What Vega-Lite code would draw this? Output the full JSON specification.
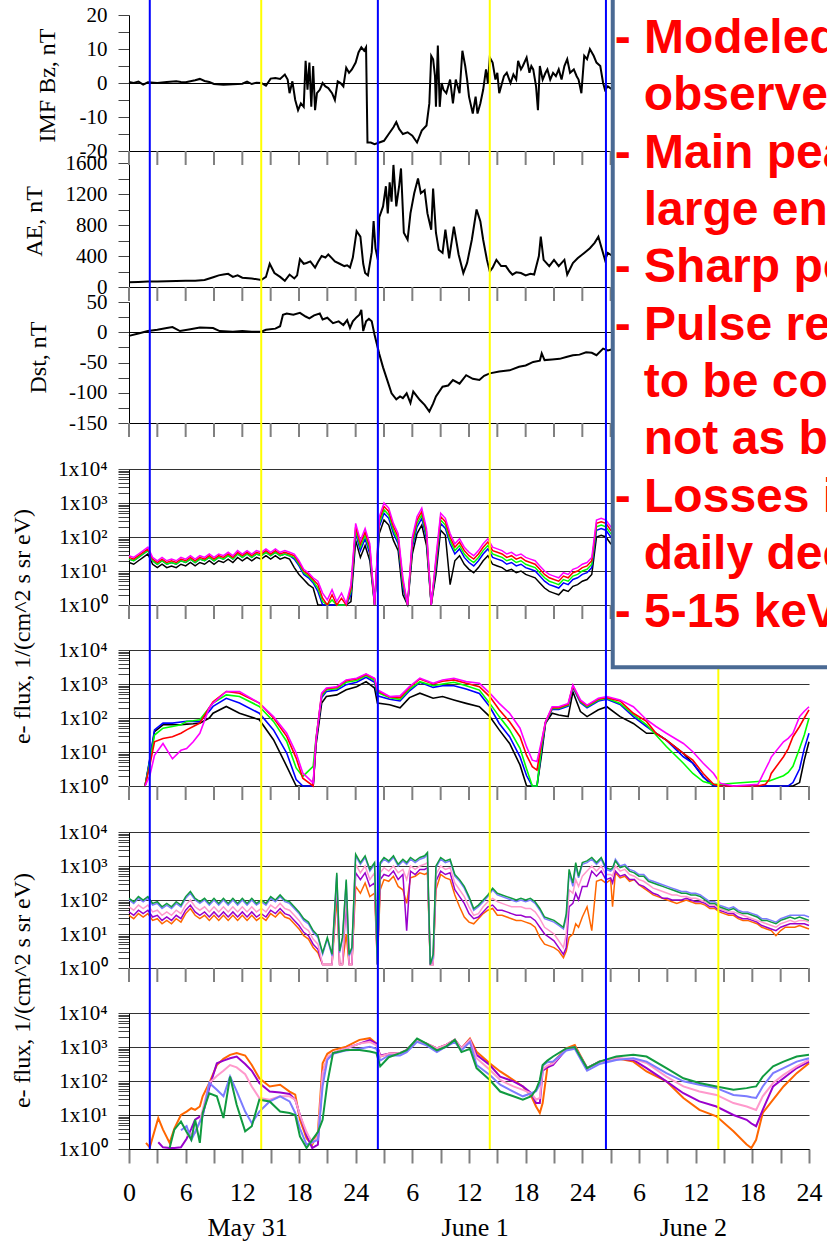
{
"$schema":"https://vega.github.io/schema/vega-lite/v6.json",
"usermeta":{"embedOptions":{"actions":false}},
"width":698,"height":1149,
"autosize":"none",
"padding":{"left":129,"top":0,"right":0,"bottom":93},
"background":"white",
"config":{"view":{"stroke":null},"font":"Liberation Serif",
 "axis":{"labelFont":"Liberation Serif","titleFont":"Liberation Serif","labelColor":"#000","titleColor":"#000","titleFontWeight":"normal","domainColor":"#000","domainWidth":1,"labelOverlap":false,"labelFlush":false,"labelBound":false},
 "axisY":{"tickSize":11,"labelPadding":11,"tickColor":"#444","tickWidth":1,"labelFontSize":21,"titleFontSize":24,"titleAngle":-90,"titleAlign":"center","titleBaseline":"middle"}},
"datasets":{
"bz":[{"t":0,"v":0.3},{"t":0.5,"v":0},{"t":1,"v":0.4},{"t":1.5,"v":-0.5},{"t":2,"v":0.2},{"t":3,"v":0},{"t":4,"v":0.3},{"t":5,"v":0.5},{"t":5.5,"v":0.3},{"t":6,"v":0.2},{"t":7,"v":0.8},{"t":7.5,"v":1.2},{"t":8,"v":0.6},{"t":8.5,"v":0.3},{"t":9,"v":-0.3},{"t":10,"v":-0.5},{"t":11,"v":-0.4},{"t":12,"v":-0.2},{"t":12.5,"v":0.4},{"t":13,"v":-0.3},{"t":13.5,"v":0.1},{"t":14,"v":0},{"t":14.5,"v":-0.8},{"t":15,"v":1.3},{"t":15.5,"v":1.5},{"t":16,"v":1.2},{"t":16.5,"v":2.5},{"t":16.8,"v":1},{"t":17,"v":-3},{"t":17.3,"v":0.5},{"t":17.6,"v":-5},{"t":17.9,"v":-8},{"t":18.2,"v":-6},{"t":18.5,"v":-7},{"t":18.7,"v":6.5},{"t":18.9,"v":-2},{"t":19.1,"v":6},{"t":19.3,"v":-7},{"t":19.5,"v":5},{"t":19.7,"v":-8},{"t":19.9,"v":-3},{"t":20.2,"v":-2},{"t":20.5,"v":0},{"t":20.8,"v":-1},{"t":21.1,"v":-1.5},{"t":21.5,"v":-3},{"t":21.8,"v":-5},{"t":22.1,"v":0.5},{"t":22.4,"v":0},{"t":22.7,"v":-1},{"t":23,"v":4.5},{"t":23.3,"v":3},{"t":23.6,"v":4},{"t":24,"v":6},{"t":24.3,"v":9},{"t":24.6,"v":10.5},{"t":24.9,"v":9.5},{"t":25.1,"v":10.5},{"t":25.25,"v":-17.5},{"t":25.6,"v":-17.5},{"t":26,"v":-18},{"t":26.5,"v":-17.5},{"t":27,"v":-17},{"t":27.5,"v":-15},{"t":28,"v":-13},{"t":28.3,"v":-11.5},{"t":28.6,"v":-13.5},{"t":29,"v":-15},{"t":29.5,"v":-14.5},{"t":30,"v":-15.5},{"t":30.5,"v":-17.5},{"t":31,"v":-14},{"t":31.5,"v":-12.5},{"t":31.8,"v":-6},{"t":32,"v":8},{"t":32.2,"v":7},{"t":32.4,"v":2},{"t":32.5,"v":-7},{"t":32.7,"v":11},{"t":32.9,"v":-7},{"t":33.1,"v":0},{"t":33.3,"v":-2},{"t":33.6,"v":-3},{"t":34,"v":1},{"t":34.3,"v":-6},{"t":34.6,"v":1},{"t":35,"v":-3},{"t":35.3,"v":9.5},{"t":35.6,"v":5},{"t":35.8,"v":1},{"t":36,"v":-4},{"t":36.4,"v":-9},{"t":36.7,"v":-4},{"t":36.9,"v":-9},{"t":37.2,"v":-6},{"t":37.5,"v":-2},{"t":37.8,"v":4},{"t":38,"v":0},{"t":38.2,"v":7.5},{"t":38.5,"v":6},{"t":38.8,"v":1},{"t":39,"v":3},{"t":39.2,"v":-3},{"t":39.5,"v":0},{"t":39.7,"v":2},{"t":40,"v":3},{"t":40.4,"v":0},{"t":40.7,"v":2.5},{"t":41,"v":1},{"t":41.2,"v":6.5},{"t":41.5,"v":4},{"t":41.7,"v":5},{"t":42.1,"v":7.5},{"t":42.4,"v":3},{"t":42.6,"v":5},{"t":42.8,"v":4},{"t":43.1,"v":-1},{"t":43.3,"v":-8},{"t":43.5,"v":5},{"t":43.8,"v":1},{"t":44.1,"v":3},{"t":44.3,"v":4},{"t":44.6,"v":1},{"t":44.9,"v":3},{"t":45.2,"v":2},{"t":45.5,"v":4},{"t":45.8,"v":1},{"t":46.1,"v":5},{"t":46.4,"v":7},{"t":46.7,"v":3},{"t":47.1,"v":4},{"t":47.4,"v":2},{"t":47.6,"v":1},{"t":47.9,"v":-3},{"t":48.2,"v":8},{"t":48.5,"v":7},{"t":48.8,"v":10},{"t":49.2,"v":8},{"t":49.5,"v":6},{"t":49.9,"v":5},{"t":50.2,"v":0},{"t":50.4,"v":-2},{"t":50.7,"v":-1},{"t":51.2,"v":-2}],
"ae":[{"t":0,"v":60},{"t":1,"v":65},{"t":2,"v":70},{"t":3,"v":72},{"t":4,"v":75},{"t":5,"v":78},{"t":6,"v":80},{"t":7,"v":82},{"t":8,"v":90},{"t":8.5,"v":110},{"t":9,"v":130},{"t":9.5,"v":150},{"t":10,"v":160},{"t":10.5,"v":170},{"t":11,"v":130},{"t":11.5,"v":150},{"t":12,"v":120},{"t":13,"v":110},{"t":14,"v":90},{"t":14.5,"v":130},{"t":14.9,"v":300},{"t":15.4,"v":180},{"t":16,"v":130},{"t":16.5,"v":80},{"t":17,"v":160},{"t":17.5,"v":110},{"t":17.8,"v":150},{"t":18.1,"v":360},{"t":18.5,"v":300},{"t":18.8,"v":310},{"t":19.2,"v":330},{"t":19.7,"v":250},{"t":20,"v":320},{"t":20.4,"v":400},{"t":20.8,"v":380},{"t":21.1,"v":420},{"t":21.5,"v":370},{"t":21.8,"v":330},{"t":22.3,"v":300},{"t":22.8,"v":270},{"t":23.1,"v":280},{"t":23.4,"v":250},{"t":23.7,"v":380},{"t":24.1,"v":720},{"t":24.5,"v":650},{"t":24.8,"v":300},{"t":25,"v":180},{"t":25.3,"v":150},{"t":25.7,"v":450},{"t":25.9,"v":850},{"t":26.1,"v":500},{"t":26.35,"v":350},{"t":26.5,"v":900},{"t":26.9,"v":1040},{"t":27.2,"v":1300},{"t":27.4,"v":950},{"t":27.6,"v":1350},{"t":27.8,"v":1100},{"t":28,"v":1575},{"t":28.3,"v":1040},{"t":28.6,"v":1300},{"t":28.8,"v":1530},{"t":29.1,"v":700},{"t":29.5,"v":610},{"t":29.8,"v":950},{"t":30.2,"v":1210},{"t":30.6,"v":1400},{"t":30.9,"v":1210},{"t":31.3,"v":1250},{"t":31.6,"v":950},{"t":32,"v":740},{"t":32.2,"v":1270},{"t":32.5,"v":700},{"t":32.8,"v":480},{"t":33.2,"v":440},{"t":33.5,"v":740},{"t":33.9,"v":370},{"t":34.4,"v":780},{"t":34.9,"v":420},{"t":35.4,"v":180},{"t":35.8,"v":310},{"t":36.3,"v":610},{"t":36.8,"v":1000},{"t":37.2,"v":850},{"t":37.5,"v":610},{"t":37.9,"v":350},{"t":38.2,"v":200},{"t":38.5,"v":250},{"t":38.9,"v":350},{"t":39.4,"v":270},{"t":39.9,"v":270},{"t":40.3,"v":200},{"t":40.6,"v":160},{"t":41,"v":190},{"t":41.5,"v":180},{"t":42,"v":150},{"t":42.5,"v":170},{"t":42.9,"v":160},{"t":43.4,"v":400},{"t":43.6,"v":650},{"t":43.9,"v":350},{"t":44.5,"v":270},{"t":45,"v":350},{"t":45.5,"v":270},{"t":46.1,"v":350},{"t":46.4,"v":160},{"t":47,"v":310},{"t":47.5,"v":370},{"t":48.2,"v":440},{"t":48.8,"v":500},{"t":49.3,"v":570},{"t":49.7,"v":650},{"t":50,"v":520},{"t":50.4,"v":350},{"t":50.7,"v":440},{"t":51.2,"v":400}],
"dst":[{"t":0,"v":-6},{"t":1,"v":-2},{"t":2,"v":2},{"t":3,"v":4},{"t":4,"v":7},{"t":4.6,"v":8.5},{"t":5.4,"v":2},{"t":6.5,"v":5},{"t":7.5,"v":8},{"t":8.9,"v":7},{"t":9.6,"v":2},{"t":11,"v":1},{"t":12,"v":2},{"t":13,"v":1},{"t":14,"v":1},{"t":14.5,"v":4},{"t":15.5,"v":6},{"t":16,"v":10},{"t":16.3,"v":29},{"t":16.7,"v":31},{"t":17.4,"v":29},{"t":18.1,"v":32},{"t":18.7,"v":26},{"t":19.1,"v":23},{"t":19.6,"v":28},{"t":20.2,"v":31},{"t":20.5,"v":21},{"t":21,"v":24},{"t":21.6,"v":15},{"t":22.2,"v":18},{"t":22.7,"v":12},{"t":23.1,"v":20},{"t":23.4,"v":7},{"t":23.7,"v":18},{"t":24.1,"v":25},{"t":24.4,"v":29},{"t":24.6,"v":37},{"t":24.8,"v":2},{"t":25.1,"v":18},{"t":25.4,"v":22},{"t":25.7,"v":18},{"t":26,"v":-4},{"t":26.5,"v":-36},{"t":26.9,"v":-58},{"t":27.3,"v":-77},{"t":27.8,"v":-101},{"t":28.3,"v":-111},{"t":28.7,"v":-106},{"t":29,"v":-109},{"t":29.4,"v":-101},{"t":29.8,"v":-117},{"t":30.1,"v":-98},{"t":30.8,"v":-112},{"t":31.3,"v":-120},{"t":31.8,"v":-131},{"t":32.2,"v":-118},{"t":32.5,"v":-106},{"t":33.2,"v":-90},{"t":33.8,"v":-88},{"t":34.3,"v":-79},{"t":35,"v":-85},{"t":35.7,"v":-71},{"t":36.4,"v":-77},{"t":37.1,"v":-79},{"t":37.6,"v":-72},{"t":38.2,"v":-68},{"t":39.2,"v":-65},{"t":40.3,"v":-63},{"t":41.3,"v":-57},{"t":42,"v":-55},{"t":42.8,"v":-49},{"t":43.5,"v":-47},{"t":43.7,"v":-35},{"t":44,"v":-46},{"t":44.8,"v":-45},{"t":45.6,"v":-44},{"t":46.3,"v":-41},{"t":47,"v":-38},{"t":47.7,"v":-37},{"t":48.4,"v":-33},{"t":49,"v":-34},{"t":49.5,"v":-38},{"t":50.2,"v":-27},{"t":50.7,"v":-30},{"t":51.2,"v":-28}],
"f1":[{"t":0,"k":17.8,"b":22.4,"g":22.4,"r":25.1,"m":28.2},{"t":0.5,"k":15.8,"b":20,"g":20,"r":22.4,"m":25.1},{"t":1,"k":20,"b":25.1,"g":25.1,"r":28.2,"m":31.6},{"t":1.5,"k":25.1,"b":31.6,"g":31.6,"r":35.5,"m":39.8},{"t":2,"k":31.6,"b":39.8,"g":39.8,"r":44.7,"m":50.1},{"t":2.5,"k":15.8,"b":20,"g":20,"r":22.4,"m":25.1},{"t":3,"k":12.6,"b":15.8,"g":15.8,"r":17.8,"m":20},{"t":3.5,"k":15.8,"b":20,"g":20,"r":22.4,"m":25.1},{"t":4,"k":12.6,"b":15.8,"g":15.8,"r":17.8,"m":20},{"t":4.5,"k":14.1,"b":17.8,"g":17.8,"r":20,"m":22.4},{"t":5,"k":12.6,"b":15.8,"g":15.8,"r":17.8,"m":20},{"t":5.5,"k":15.8,"b":20,"g":20,"r":22.4,"m":25.1},{"t":6,"k":14.1,"b":17.8,"g":17.8,"r":20,"m":22.4},{"t":6.5,"k":17.8,"b":22.4,"g":22.4,"r":25.1,"m":28.2},{"t":7,"k":14.1,"b":17.8,"g":17.8,"r":20,"m":22.4},{"t":7.5,"k":17.8,"b":22.4,"g":22.4,"r":25.1,"m":28.2},{"t":8,"k":15.8,"b":20,"g":20,"r":22.4,"m":25.1},{"t":8.5,"k":20,"b":25.1,"g":25.1,"r":28.2,"m":31.6},{"t":9,"k":15.8,"b":20,"g":20,"r":22.4,"m":25.1},{"t":9.5,"k":20,"b":25.1,"g":25.1,"r":28.2,"m":31.6},{"t":10,"k":17.8,"b":22.4,"g":22.4,"r":25.1,"m":28.2},{"t":10.5,"k":22.4,"b":28.2,"g":28.2,"r":31.6,"m":35.5},{"t":11,"k":17.8,"b":22.4,"g":22.4,"r":25.1,"m":28.2},{"t":11.5,"k":25.1,"b":31.6,"g":31.6,"r":35.5,"m":39.8},{"t":12,"k":20,"b":25.1,"g":25.1,"r":28.2,"m":31.6},{"t":12.5,"k":25.1,"b":31.6,"g":31.6,"r":35.5,"m":39.8},{"t":13,"k":20,"b":25.1,"g":25.1,"r":28.2,"m":31.6},{"t":13.5,"k":25.1,"b":31.6,"g":31.6,"r":35.5,"m":39.8},{"t":14,"k":22.4,"b":28.2,"g":28.2,"r":31.6,"m":35.5},{"t":14.5,"k":28.2,"b":35.5,"g":35.5,"r":39.8,"m":44.7},{"t":15,"k":22.4,"b":28.2,"g":28.2,"r":31.6,"m":35.5},{"t":15.5,"k":28.2,"b":35.5,"g":35.5,"r":39.8,"m":44.7},{"t":16,"k":22.4,"b":28.2,"g":28.2,"r":31.6,"m":35.5},{"t":16.5,"k":25.1,"b":31.6,"g":31.6,"r":35.5,"m":39.8},{"t":17,"k":22.4,"b":28.2,"g":28.2,"r":31.6,"m":35.5},{"t":17.5,"k":12.6,"b":22.4,"g":25.1,"r":28.2,"m":31.6},{"t":18,"k":7.94,"b":14.1,"g":15.8,"r":17.8,"m":20},{"t":18.5,"k":5.62,"b":7.94,"g":8.91,"r":10,"m":11.2},{"t":19,"k":3.98,"b":6.31,"g":7.08,"r":7.94,"m":8.91},{"t":19.5,"k":3.16,"b":4.47,"g":5.01,"r":5.62,"m":6.31},{"t":20,"k":1,"b":2.51,"g":3.16,"r":3.98,"m":5.01},{"t":20.5,"k":1,"b":1,"g":1.26,"r":1.58,"m":2.24},{"t":21,"k":1,"b":1,"g":1,"r":1,"m":1.41},{"t":21.5,"k":1,"b":1,"g":1.41,"r":2,"m":2.82},{"t":22,"k":1,"b":1,"g":1,"r":1,"m":1.26},{"t":22.5,"k":1,"b":1,"g":1,"r":1.58,"m":2.24},{"t":23,"k":1,"b":1,"g":1,"r":1,"m":1.12},{"t":23.5,"k":1.26,"b":2,"g":2.51,"r":3.16,"m":3.98},{"t":24,"k":79.4,"b":126,"g":158,"r":200,"m":251},{"t":24.5,"k":25.1,"b":39.8,"g":50.1,"r":63.1,"m":79.4},{"t":25,"k":56.2,"b":89.1,"g":112,"r":141,"m":178},{"t":25.5,"k":20,"b":31.6,"g":39.8,"r":50.1,"m":63.1},{"t":26,"k":1,"b":1,"g":1,"r":1,"m":1},{"t":26.5,"k":126,"b":200,"g":251,"r":316,"m":398},{"t":27,"k":316,"b":501,"g":631,"r":794,"m":1000},{"t":27.5,"k":224,"b":355,"g":447,"r":562,"m":708},{"t":28,"k":79.4,"b":126,"g":158,"r":200,"m":251},{"t":28.5,"k":39.8,"b":63.1,"g":79.4,"r":100,"m":126},{"t":29,"k":2,"b":3.16,"g":3.98,"r":5.01,"m":6.31},{"t":29.5,"k":1,"b":1,"g":1,"r":1,"m":1},{"t":30,"k":31.6,"b":50.1,"g":63.1,"r":79.4,"m":100},{"t":30.5,"k":126,"b":200,"g":251,"r":316,"m":398},{"t":31,"k":224,"b":355,"g":447,"r":562,"m":708},{"t":31.5,"k":56.2,"b":89.1,"g":112,"r":141,"m":178},{"t":32,"k":1,"b":1,"g":1,"r":1,"m":1},{"t":32.5,"k":7.94,"b":12.6,"g":15.8,"r":20,"m":25.1},{"t":33,"k":158,"b":251,"g":316,"r":398,"m":501},{"t":33.5,"k":112,"b":178,"g":224,"r":282,"m":355},{"t":34,"k":3.98,"b":63.1,"g":79.4,"r":100,"m":126},{"t":34.5,"k":20,"b":31.6,"g":39.8,"r":50.1,"m":63.1},{"t":35,"k":28.2,"b":44.7,"g":56.2,"r":70.8,"m":89.1},{"t":35.5,"k":15.8,"b":25.1,"g":31.6,"r":39.8,"m":50.1},{"t":36,"k":11.2,"b":17.8,"g":22.4,"r":28.2,"m":35.5},{"t":36.5,"k":8.91,"b":14.1,"g":17.8,"r":22.4,"m":28.2},{"t":37,"k":12.6,"b":20,"g":25.1,"r":31.6,"m":39.8},{"t":37.5,"k":20,"b":31.6,"g":39.8,"r":50.1,"m":63.1},{"t":38,"k":28.2,"b":44.7,"g":56.2,"r":70.8,"m":89.1},{"t":38.5,"k":15.8,"b":25.1,"g":31.6,"r":39.8,"m":50.1},{"t":39,"k":14.1,"b":22.4,"g":28.2,"r":35.5,"m":44.7},{"t":39.5,"k":12.6,"b":20,"g":25.1,"r":31.6,"m":39.8},{"t":40,"k":10,"b":15.8,"g":20,"r":25.1,"m":31.6},{"t":40.5,"k":11.2,"b":17.8,"g":22.4,"r":28.2,"m":35.5},{"t":41,"k":8.91,"b":14.1,"g":17.8,"r":22.4,"m":28.2},{"t":41.5,"k":10,"b":15.8,"g":20,"r":25.1,"m":31.6},{"t":42,"k":7.94,"b":12.6,"g":15.8,"r":20,"m":25.1},{"t":42.5,"k":7.08,"b":11.2,"g":14.1,"r":17.8,"m":22.4},{"t":43,"k":6.31,"b":10,"g":12.6,"r":15.8,"m":20},{"t":43.5,"k":4.47,"b":7.08,"g":8.91,"r":11.2,"m":14.1},{"t":44,"k":3.16,"b":5.01,"g":6.31,"r":7.94,"m":10},{"t":44.5,"k":2.51,"b":3.98,"g":5.01,"r":6.31,"m":7.94},{"t":45,"k":2.24,"b":3.55,"g":4.47,"r":5.62,"m":7.08},{"t":45.5,"k":2,"b":3.16,"g":3.98,"r":5.01,"m":6.31},{"t":46,"k":2.82,"b":4.47,"g":5.62,"r":7.08,"m":8.91},{"t":46.5,"k":2.51,"b":3.98,"g":5.01,"r":6.31,"m":7.94},{"t":47,"k":3.55,"b":5.62,"g":7.08,"r":8.91,"m":11.2},{"t":47.5,"k":3.98,"b":6.31,"g":7.94,"r":10,"m":12.6},{"t":48,"k":5.01,"b":7.94,"g":10,"r":12.6,"m":15.8},{"t":48.5,"k":5.62,"b":8.91,"g":11.2,"r":14.1,"m":17.8},{"t":49,"k":7.94,"b":12.6,"g":15.8,"r":20,"m":25.1},{"t":49.5,"k":100,"b":158,"g":200,"r":251,"m":316},{"t":50,"k":112,"b":178,"g":224,"r":282,"m":355},{"t":50.5,"k":100,"b":158,"g":200,"r":251,"m":316},{"t":51,"k":63.1,"b":100,"g":126,"r":158,"m":200},{"t":51.5,"k":50.1,"b":79.4,"g":100,"r":126,"m":158}],
"f2":[{"t":1.7,"k":1,"b":1,"g":1,"r":1,"m":1},{"t":2.2,"k":5.62,"b":6.31,"g":5.01,"r":3.98,"m":2},{"t":2.7,"k":39.8,"b":44.7,"g":31.6,"r":20,"m":7.94},{"t":3.6,"k":63.1,"b":70.8,"g":50.1,"r":25.1,"m":17.8},{"t":4.6,"k":63.1,"b":70.8,"g":56.2,"r":28.2,"m":6.31},{"t":5.5,"k":63.1,"b":75.9,"g":63.1,"r":35.5,"m":11.2},{"t":6.1,"k":66.1,"b":79.4,"g":79.4,"r":44.7,"m":12.6},{"t":6.8,"k":67.6,"b":79.4,"g":83.2,"r":56.2,"m":20},{"t":7.5,"k":70.8,"b":79.4,"g":89.1,"r":70.8,"m":35.5},{"t":8.5,"k":100,"b":158,"g":200,"r":200,"m":200},{"t":8.9,"k":138,"b":219,"g":275,"r":302,"m":275},{"t":10.3,"k":219,"b":380,"g":479,"r":603,"m":603},{"t":11.7,"k":138,"b":275,"g":427,"r":537,"m":603},{"t":13.8,"k":89.1,"b":138,"g":219,"r":275,"m":275},{"t":15.3,"k":22.9,"b":44.7,"g":79.4,"r":100,"m":110},{"t":16.7,"k":3.8,"b":9.33,"g":20.4,"r":28.8,"m":35.5},{"t":17.7,"k":1,"b":1.55,"g":3.39,"r":6.61,"m":9.33},{"t":18.4,"k":1,"b":1,"g":1.91,"r":1.7,"m":2.4},{"t":19.5,"k":1,"b":1,"g":3.8,"r":1,"m":1.23},{"t":19.8,"k":15.8,"b":20,"g":25.1,"r":22.9,"m":22.9},{"t":20.4,"k":275,"b":398,"g":447,"r":501,"m":537},{"t":20.9,"k":427,"b":603,"g":676,"r":724,"m":759},{"t":22,"k":479,"b":661,"g":724,"r":794,"m":832},{"t":23,"k":676,"b":955,"g":1122,"r":1259,"m":1318},{"t":24.1,"k":832,"b":1122,"g":1259,"r":1413,"m":1479},{"t":25.1,"k":1175,"b":1585,"g":1778,"r":1905,"m":1995},{"t":26,"k":759,"b":1122,"g":1259,"r":1413,"m":1479},{"t":26.3,"k":275,"b":447,"g":562,"r":631,"m":676},{"t":27.6,"k":245,"b":355,"g":398,"r":417,"m":427},{"t":28.7,"k":200,"b":316,"g":355,"r":398,"m":447},{"t":29.7,"k":398,"b":631,"g":708,"r":794,"m":832},{"t":30.8,"k":537,"b":1122,"g":1175,"r":1413,"m":1479},{"t":32.2,"k":380,"b":794,"g":891,"r":1000,"m":1047},{"t":33.2,"k":427,"b":891,"g":1000,"r":1202,"m":1318},{"t":34.4,"k":339,"b":891,"g":1122,"r":1318,"m":1479},{"t":35.7,"k":269,"b":708,"g":891,"r":1047,"m":1175},{"t":37.1,"k":214,"b":525,"g":661,"r":832,"m":1047},{"t":38.2,"k":110,"b":214,"g":269,"r":427,"m":537},{"t":39.2,"k":44.7,"b":69.2,"g":110,"r":174,"m":269},{"t":40.3,"k":17.8,"b":28.2,"g":44.7,"r":77.6,"m":138},{"t":41.4,"k":4.17,"b":7.24,"g":12.9,"r":28.2,"m":50.1},{"t":42.1,"k":1,"b":2,"g":3.16,"r":7.94,"m":14.1},{"t":42.7,"k":1,"b":1,"g":1,"r":3.72,"m":5.75},{"t":43.2,"k":1,"b":1,"g":1,"r":2.95,"m":5.25},{"t":43.7,"k":9.12,"b":12.6,"g":15.8,"r":20,"m":22.4},{"t":44.1,"k":69.2,"b":72.4,"g":74.1,"r":75.9,"m":77.6},{"t":44.8,"k":138,"b":178,"g":191,"r":200,"m":214},{"t":45.5,"k":123,"b":178,"g":191,"r":200,"m":214},{"t":46.5,"k":110,"b":224,"g":240,"r":251,"m":269},{"t":47,"k":589,"b":794,"g":851,"r":891,"m":933},{"t":47.8,"k":155,"b":282,"g":302,"r":316,"m":339},{"t":48.5,"k":110,"b":200,"g":214,"r":229,"m":240},{"t":49.7,"k":174,"b":316,"g":339,"r":363,"m":380},{"t":50.6,"k":214,"b":355,"g":380,"r":398,"m":427},{"t":52,"k":110,"b":251,"g":269,"r":316,"m":339},{"t":53.4,"k":69.2,"b":110,"g":126,"r":138,"m":214},{"t":54.8,"k":35.5,"b":56.2,"g":63.1,"r":79.4,"m":89.1},{"t":55.8,"k":35.5,"b":35.5,"g":31.6,"r":35.5,"m":56.2},{"t":56.9,"k":22.4,"b":22.4,"g":14.5,"r":22.4,"m":35.5},{"t":58.7,"k":9.12,"b":7.24,"g":4.68,"r":9.12,"m":17.8},{"t":59.7,"k":4.68,"b":4.68,"g":2.34,"r":5.75,"m":10.2},{"t":60.8,"k":1.86,"b":1.86,"g":1.35,"r":2.34,"m":4.68},{"t":61.9,"k":1,"b":1,"g":1.12,"r":1.12,"m":2.34},{"t":62.6,"k":1,"b":1,"g":1.12,"r":1,"m":1.2},{"t":64,"k":1,"b":1,"g":1.2,"r":1,"m":1},{"t":66.6,"k":1,"b":1,"g":1.35,"r":1,"m":1.12},{"t":67.4,"k":1,"b":1,"g":1.41,"r":1.12,"m":3.16},{"t":67.8,"k":1,"b":1,"g":1.41,"r":1.58,"m":5.25},{"t":68,"k":1,"b":1,"g":1.48,"r":2.34,"m":7.08},{"t":69.3,"k":1,"b":1,"g":2,"r":7.24,"m":20},{"t":69.8,"k":1,"b":1,"g":2.51,"r":12.6,"m":25.1},{"t":70.3,"k":1,"b":1.26,"g":3.8,"r":28.2,"m":35.5},{"t":71,"k":1.26,"b":3.16,"g":12.6,"r":56.2,"m":110},{"t":71.5,"k":5.75,"b":12.6,"g":31.6,"r":100,"m":158},{"t":72,"k":20,"b":35.5,"g":100,"r":174,"m":214}],
"f3":[{"t":0,"o":35.5,"p":44.7,"i":63.1,"l":100,"n":112},{"t":0.5,"o":28.2,"p":35.5,"i":50.1,"l":79.4,"n":89.1},{"t":1,"o":39.8,"p":50.1,"i":70.8,"l":112,"n":126},{"t":1.5,"o":31.6,"p":39.8,"i":56.2,"l":89.1,"n":100},{"t":2,"o":39.8,"p":50.1,"i":70.8,"l":112,"n":126},{"t":2.5,"o":25.1,"p":31.6,"i":44.7,"l":70.8,"n":79.4},{"t":3,"o":28.2,"p":35.5,"i":50.1,"l":79.4,"n":89.1},{"t":3.5,"o":20,"p":25.1,"i":35.5,"l":56.2,"n":63.1},{"t":4,"o":25.1,"p":31.6,"i":44.7,"l":70.8,"n":79.4},{"t":4.5,"o":20,"p":25.1,"i":35.5,"l":56.2,"n":63.1},{"t":5,"o":28.2,"p":35.5,"i":50.1,"l":79.4,"n":89.1},{"t":5.5,"o":22.4,"p":28.2,"i":39.8,"l":63.1,"n":70.8},{"t":6,"o":39.8,"p":50.1,"i":70.8,"l":112,"n":126},{"t":6.5,"o":56.2,"p":70.8,"i":100,"l":158,"n":178},{"t":7,"o":35.5,"p":44.7,"i":63.1,"l":100,"n":112},{"t":7.5,"o":28.2,"p":35.5,"i":50.1,"l":79.4,"n":89.1},{"t":8,"o":35.5,"p":44.7,"i":63.1,"l":100,"n":112},{"t":8.5,"o":25.1,"p":31.6,"i":44.7,"l":70.8,"n":79.4},{"t":9,"o":35.5,"p":44.7,"i":63.1,"l":100,"n":112},{"t":9.5,"o":25.1,"p":31.6,"i":44.7,"l":70.8,"n":79.4},{"t":10,"o":35.5,"p":44.7,"i":63.1,"l":100,"n":112},{"t":10.5,"o":25.1,"p":31.6,"i":44.7,"l":70.8,"n":79.4},{"t":11,"o":35.5,"p":44.7,"i":63.1,"l":100,"n":112},{"t":11.5,"o":25.1,"p":31.6,"i":44.7,"l":70.8,"n":79.4},{"t":12,"o":35.5,"p":44.7,"i":63.1,"l":100,"n":112},{"t":12.5,"o":25.1,"p":31.6,"i":44.7,"l":70.8,"n":79.4},{"t":13,"o":35.5,"p":44.7,"i":63.1,"l":100,"n":112},{"t":13.5,"o":25.1,"p":31.6,"i":44.7,"l":70.8,"n":79.4},{"t":14,"o":31.6,"p":39.8,"i":56.2,"l":89.1,"n":100},{"t":14.5,"o":25.1,"p":31.6,"i":44.7,"l":70.8,"n":79.4},{"t":15,"o":39.8,"p":50.1,"i":70.8,"l":112,"n":126},{"t":15.5,"o":31.6,"p":39.8,"i":56.2,"l":89.1,"n":100},{"t":16,"o":44.7,"p":56.2,"i":79.4,"l":126,"n":141},{"t":16.5,"o":31.6,"p":39.8,"i":56.2,"l":89.1,"n":100},{"t":17,"o":28.2,"p":35.5,"i":50.1,"l":79.4,"n":89.1},{"t":17.5,"o":20,"p":25.1,"i":35.5,"l":56.2,"n":63.1},{"t":18,"o":14.1,"p":17.8,"i":25.1,"l":39.8,"n":44.7},{"t":18.5,"o":8.91,"p":11.2,"i":15.8,"l":25.1,"n":28.2},{"t":19,"o":7.08,"p":8.91,"i":12.6,"l":20,"n":22.4},{"t":19.5,"o":3.98,"p":5.01,"i":7.08,"l":11.2,"n":12.6},{"t":20,"o":2.82,"p":3.55,"i":5.01,"l":7.94,"n":8.91},{"t":20.5,"o":1.26,"p":1.26,"i":1.26,"l":2.51,"n":2.82},{"t":21,"o":1.26,"p":1.26,"i":1.26,"l":7.08,"n":7.94},{"t":21.5,"o":1.26,"p":1.26,"i":1.26,"l":2.24,"n":2.51},{"t":22,"o":126,"p":316,"i":447,"l":562,"n":631},{"t":22.3,"o":1.26,"p":1.26,"i":1.26,"l":2.82,"n":3.16},{"t":22.6,"o":1.26,"p":1.26,"i":1.26,"l":7.08,"n":7.94},{"t":23,"o":10,"p":100,"i":200,"l":355,"n":398},{"t":23.3,"o":1.26,"p":1.26,"i":1.26,"l":2.24,"n":2.51},{"t":23.6,"o":1.26,"p":1.26,"i":1.26,"l":3.55,"n":3.98},{"t":24,"o":251,"p":631,"i":1122,"l":1995,"n":2239},{"t":24.5,"o":158,"p":398,"i":631,"l":1122,"n":1259},{"t":25,"o":316,"p":631,"i":1000,"l":1778,"n":1995},{"t":25.5,"o":126,"p":251,"i":398,"l":708,"n":794},{"t":26,"o":158,"p":316,"i":631,"l":1122,"n":1259},{"t":26.3,"o":1.26,"p":1.26,"i":1.26,"l":1.26,"n":1.26},{"t":26.6,"o":200,"p":398,"i":631,"l":1122,"n":1259},{"t":27,"o":398,"p":562,"i":891,"l":1585,"n":1778},{"t":27.5,"o":355,"p":501,"i":708,"l":1259,"n":1413},{"t":28,"o":501,"p":708,"i":1000,"l":1778,"n":1995},{"t":28.5,"o":251,"p":398,"i":631,"l":1000,"n":1122},{"t":29,"o":200,"p":562,"i":794,"l":1413,"n":1585},{"t":29.4,"o":79.4,"p":12.6,"i":398,"l":1122,"n":1259},{"t":29.8,"o":447,"p":708,"i":1000,"l":1585,"n":1778},{"t":30.3,"o":501,"p":562,"i":794,"l":1259,"n":1413},{"t":30.8,"o":631,"p":794,"i":1000,"l":1585,"n":1778},{"t":31.3,"o":562,"p":794,"i":1122,"l":1778,"n":1995},{"t":31.6,"o":631,"p":891,"i":1259,"l":2239,"n":2512},{"t":31.9,"o":1.26,"p":1.26,"i":1.26,"l":1.26,"n":1.26},{"t":32.2,"o":1.26,"p":1.26,"i":1.26,"l":2,"n":2.51},{"t":32.5,"o":200,"p":355,"i":562,"l":891,"n":1000},{"t":33,"o":562,"p":708,"i":1000,"l":1585,"n":1778},{"t":33.5,"o":447,"p":562,"i":794,"l":1259,"n":1413},{"t":34,"o":398,"p":631,"i":891,"l":1413,"n":1585},{"t":34.5,"o":141,"p":200,"i":316,"l":501,"n":562},{"t":35,"o":63.1,"p":126,"i":200,"l":355,"n":398},{"t":35.5,"o":31.6,"p":79.4,"i":126,"l":224,"n":251},{"t":36,"o":22.4,"p":39.8,"i":63.1,"l":112,"n":126},{"t":36.5,"o":20,"p":28.2,"i":35.5,"l":50.1,"n":56.2},{"t":37,"o":28.2,"p":31.6,"i":39.8,"l":63.1,"n":70.8},{"t":37.5,"o":39.8,"p":44.7,"i":63.1,"l":89.1,"n":100},{"t":38,"o":50.1,"p":63.1,"i":89.1,"l":126,"n":141},{"t":38.5,"o":56.2,"p":70.8,"i":112,"l":200,"n":224},{"t":39,"o":35.5,"p":50.1,"i":89.1,"l":141,"n":158},{"t":39.5,"o":35.5,"p":50.1,"i":79.4,"l":126,"n":141},{"t":40,"o":31.6,"p":44.7,"i":70.8,"l":112,"n":126},{"t":40.5,"o":28.2,"p":39.8,"i":63.1,"l":100,"n":112},{"t":41,"o":25.1,"p":35.5,"i":63.1,"l":89.1,"n":100},{"t":41.5,"o":25.1,"p":35.5,"i":63.1,"l":100,"n":112},{"t":42,"o":22.4,"p":31.6,"i":56.2,"l":89.1,"n":100},{"t":42.5,"o":20,"p":31.6,"i":56.2,"l":100,"n":112},{"t":43,"o":15.8,"p":25.1,"i":44.7,"l":79.4,"n":89.1},{"t":43.5,"o":7.94,"p":15.8,"i":28.2,"l":50.1,"n":56.2},{"t":44,"o":5.01,"p":10,"i":15.8,"l":28.2,"n":31.6},{"t":44.5,"o":4.47,"p":7.94,"i":12.6,"l":25.1,"n":28.2},{"t":45,"o":3.98,"p":6.31,"i":10,"l":22.4,"n":25.1},{"t":45.5,"o":3.16,"p":3.98,"i":6.31,"l":17.8,"n":20},{"t":46,"o":2,"p":2.51,"i":3.98,"l":14.1,"n":15.8},{"t":46.3,"o":3.16,"p":3.98,"i":10,"l":31.6,"n":39.8},{"t":46.6,"o":7.94,"p":63.1,"i":200,"l":631,"n":794},{"t":47,"o":10,"p":79.4,"i":158,"l":251,"n":316},{"t":47.3,"o":20,"p":158,"i":398,"l":1000,"n":1259},{"t":47.6,"o":15.8,"p":100,"i":251,"l":447,"n":501},{"t":48,"o":31.6,"p":251,"i":501,"l":1122,"n":1259},{"t":48.5,"o":63.1,"p":251,"i":708,"l":1259,"n":1413},{"t":49,"o":12.6,"p":708,"i":1000,"l":1585,"n":1778},{"t":49.5,"o":355,"p":501,"i":708,"l":1122,"n":1259},{"t":50,"o":398,"p":708,"i":1000,"l":1585,"n":1778},{"t":50.5,"o":316,"p":398,"i":562,"l":794,"n":891},{"t":51,"o":398,"p":447,"i":562,"l":708,"n":794},{"t":51.2,"o":63.1,"p":316,"i":501,"l":794,"n":891},{"t":51.5,"o":631,"p":708,"i":1000,"l":1585,"n":1413},{"t":52,"o":447,"p":501,"i":708,"l":1000,"n":891},{"t":52.5,"o":501,"p":562,"i":794,"l":1122,"n":1000},{"t":53,"o":355,"p":398,"i":562,"l":794,"n":708},{"t":53.5,"o":398,"p":398,"i":501,"l":708,"n":631},{"t":54,"o":282,"p":282,"i":398,"l":562,"n":501},{"t":54.5,"o":224,"p":251,"i":355,"l":562,"n":501},{"t":55,"o":178,"p":200,"i":282,"l":398,"n":355},{"t":55.5,"o":141,"p":158,"i":224,"l":355,"n":316},{"t":56,"o":126,"p":141,"i":200,"l":316,"n":282},{"t":56.5,"o":112,"p":112,"i":178,"l":282,"n":251},{"t":57,"o":100,"p":112,"i":158,"l":251,"n":224},{"t":57.5,"o":89.1,"p":100,"i":141,"l":224,"n":200},{"t":58,"o":79.4,"p":100,"i":141,"l":200,"n":178},{"t":58.5,"o":89.1,"p":100,"i":126,"l":178,"n":158},{"t":59,"o":100,"p":112,"i":126,"l":178,"n":158},{"t":59.5,"o":89.1,"p":100,"i":112,"l":158,"n":141},{"t":60,"o":79.4,"p":89.1,"i":112,"l":158,"n":141},{"t":60.5,"o":79.4,"p":89.1,"i":100,"l":141,"n":126},{"t":61,"o":70.8,"p":79.4,"i":89.1,"l":112,"n":100},{"t":61.5,"o":56.2,"p":63.1,"i":70.8,"l":89.1,"n":79.4},{"t":62,"o":56.2,"p":63.1,"i":70.8,"l":89.1,"n":79.4},{"t":62.5,"o":44.7,"p":50.1,"i":56.2,"l":70.8,"n":63.1},{"t":63,"o":39.8,"p":44.7,"i":50.1,"l":63.1,"n":56.2},{"t":63.5,"o":35.5,"p":39.8,"i":44.7,"l":56.2,"n":50.1},{"t":64,"o":35.5,"p":39.8,"i":44.7,"l":63.1,"n":56.2},{"t":64.5,"o":28.2,"p":31.6,"i":39.8,"l":50.1,"n":44.7},{"t":65,"o":25.1,"p":28.2,"i":35.5,"l":44.7,"n":39.8},{"t":65.5,"o":25.1,"p":28.2,"i":31.6,"l":44.7,"n":39.8},{"t":66,"o":22.4,"p":25.1,"i":28.2,"l":39.8,"n":35.5},{"t":66.5,"o":20,"p":22.4,"i":25.1,"l":35.5,"n":31.6},{"t":67,"o":15.8,"p":17.8,"i":22.4,"l":28.2,"n":25.1},{"t":67.5,"o":14.1,"p":15.8,"i":20,"l":28.2,"n":25.1},{"t":68,"o":12.6,"p":14.1,"i":17.8,"l":25.1,"n":22.4},{"t":68.5,"o":8.91,"p":12.6,"i":15.8,"l":22.4,"n":20},{"t":69,"o":12.6,"p":15.8,"i":20,"l":28.2,"n":25.1},{"t":69.5,"o":15.8,"p":17.8,"i":22.4,"l":31.6,"n":28.2},{"t":70,"o":15.8,"p":20,"i":25.1,"l":35.5,"n":31.6},{"t":70.5,"o":15.8,"p":20,"i":22.4,"l":35.5,"n":28.2},{"t":71,"o":17.8,"p":20,"i":25.1,"l":35.5,"n":31.6},{"t":71.5,"o":15.8,"p":20,"i":25.1,"l":35.5,"n":28.2},{"t":72,"o":14.1,"p":17.8,"i":22.4,"l":31.6,"n":25.1}],
"f4":[{"t":1.8,"o":1.51},{"t":2.2,"o":1.12},{"t":3.1,"o":8.13,"p":1.58},{"t":3.6,"o":3.72,"p":1.12},{"t":4.3,"o":1.51,"p":1.07,"n":1.07},{"t":4.8,"o":3.98,"p":1.07,"n":3.72},{"t":5.5,"o":10,"p":1.12,"l":3.55,"n":6.46},{"t":6.1,"o":12.6,"p":2,"i":2.51,"l":4.68,"n":3.16},{"t":6.6,"o":15.8,"p":3.98,"i":2.82,"l":1.86,"n":1.86},{"t":7,"o":14.1,"p":7.24,"i":2.95,"l":3.16,"n":7.24},{"t":7.5,"o":17.8,"p":8.91,"i":6.31,"l":6.31,"n":1.51},{"t":7.8,"o":35.5,"p":10,"i":14.1,"l":9.12,"n":11.5},{"t":8.5,"o":87.1,"p":63.1,"i":87.1,"l":87.1,"n":43.7},{"t":9.3,"o":295,"p":331,"i":141,"l":55,"n":35.5},{"t":10,"o":447,"p":398,"i":200,"l":35.5,"n":8.13},{"t":10.7,"o":589,"p":468,"i":295,"l":135,"n":135},{"t":11.4,"o":661,"p":525,"i":251,"l":50.1,"n":20},{"t":12.3,"o":562,"p":316,"i":158,"l":12.6,"n":3.31},{"t":13,"o":295,"p":200,"i":69.2,"l":5.75,"n":4.68},{"t":13.8,"o":120,"p":87.1,"i":31.6,"l":12.6,"n":28.2},{"t":14.9,"o":69.2,"p":49,"i":28.2,"l":25.1,"n":25.1},{"t":16,"o":77.6,"p":45.7,"i":35.5,"l":35.5,"n":12.6},{"t":17,"o":49,"p":41.7,"i":35.5,"l":25.1,"n":11.5},{"t":17.6,"o":39.8,"p":28.2,"i":28.2,"l":11.5,"n":10},{"t":18.1,"o":7.24,"p":10,"i":10,"l":3.98,"n":2.34},{"t":18.8,"o":2.09,"p":2.51,"i":3.16,"l":1.35,"n":1.07},{"t":19.4,"o":1.35,"p":1.07,"i":1.51,"l":1.58,"n":1.86},{"t":20,"o":3.16,"p":1.35,"i":2.34,"l":1.86,"n":3.16},{"t":20.5,"o":331,"p":170,"i":170,"l":69.2,"n":7.24},{"t":21,"o":631,"p":447,"i":501,"l":417,"n":87.1},{"t":21.6,"o":813,"p":661,"i":661,"l":631,"n":661},{"t":23,"o":1023,"p":912,"i":912,"l":794,"n":813},{"t":24.4,"o":1622,"p":1259,"i":1259,"l":891,"n":813},{"t":25.5,"o":1820,"p":1585,"i":1413,"l":1023,"n":741},{"t":26.2,"o":1259,"p":1259,"i":1122,"l":891,"n":661},{"t":26.6,"o":525,"p":562,"i":525,"l":398,"n":269},{"t":27.5,"o":631,"p":631,"i":631,"l":562,"n":501},{"t":28.7,"o":661,"p":661,"i":661,"l":562,"n":661},{"t":29.4,"o":813,"p":813,"i":813,"l":708,"n":813},{"t":30.5,"o":1622,"p":1622,"i":1622,"l":1413,"n":1778},{"t":31.5,"o":1259,"p":1259,"i":1259,"l":1122,"n":1259},{"t":32.6,"o":912,"p":912,"i":912,"l":708,"n":794},{"t":33.5,"o":1122,"p":1122,"i":1122,"l":1000,"n":1000},{"t":34.5,"o":1622,"p":1622,"i":1622,"l":1413,"n":1622},{"t":35.2,"o":912,"p":912,"i":912,"l":794,"n":708},{"t":36.1,"o":1778,"p":1622,"i":1622,"l":1413,"n":891},{"t":36.8,"o":724,"p":589,"i":468,"l":295,"n":240},{"t":38.2,"o":331,"p":295,"i":214,"l":151,"n":107},{"t":39.3,"o":191,"p":135,"i":107,"l":77.6,"n":49},{"t":40.7,"o":107,"p":97.7,"i":69.2,"l":49,"n":35.5},{"t":41.7,"o":69.2,"p":69.2,"i":55,"l":35.5,"n":28.2},{"t":42.6,"o":35.5,"p":43.7,"i":43.7,"l":43.7,"n":35.5},{"t":43.1,"o":17.8,"p":22.4,"i":28.2,"l":50.1,"n":56.2},{"t":43.5,"o":11.5,"p":22.4,"i":31.6,"l":79.4,"n":107},{"t":43.8,"o":22.4,"p":200,"i":224,"l":282,"n":295},{"t":44.3,"o":251,"p":251,"i":282,"l":355,"n":398},{"t":44.9,"o":355,"p":295,"i":331,"l":372,"n":525},{"t":46.3,"o":912,"p":851,"i":891,"l":794,"n":912},{"t":47.2,"o":1148,"p":1000,"i":1000,"l":891,"n":1000},{"t":48.5,"o":240,"p":240,"i":240,"l":200,"n":240},{"t":49.8,"o":372,"p":372,"i":372,"l":316,"n":372},{"t":51.6,"o":468,"p":468,"i":468,"l":417,"n":525},{"t":53.4,"o":372,"p":417,"i":447,"l":468,"n":589},{"t":54.8,"o":191,"p":240,"i":339,"l":372,"n":525},{"t":56.9,"o":97.7,"p":97.7,"i":135,"l":170,"n":240},{"t":58.7,"o":31.6,"p":43.7,"i":69.2,"l":97.7,"n":120},{"t":60.4,"o":14.1,"p":25.1,"i":49,"l":77.6,"n":87.1},{"t":62.2,"o":9.12,"p":17.8,"i":38.9,"l":61.7,"n":69.2},{"t":64,"o":3.31,"p":10,"i":22.4,"l":38.9,"n":55},{"t":65.4,"o":1.35,"p":7.24,"i":17.8,"l":35.5,"n":61.7},{"t":65.9,"o":1.07,"p":5.62,"i":15.8,"l":33.1,"n":66.1},{"t":66.4,"o":1.86,"p":4.68,"i":14.1,"l":31.6,"n":69.2},{"t":67.1,"o":11.5,"p":14.1,"i":35.5,"l":69.2,"n":135},{"t":68.2,"o":28.2,"p":69.2,"i":87.1,"l":170,"n":269},{"t":69.3,"o":69.2,"p":120,"i":151,"l":240,"n":372},{"t":70.7,"o":170,"p":240,"i":269,"l":372,"n":525},{"t":72,"o":331,"p":372,"i":417,"l":468,"n":589}],
"xt":[{"t":0},{"t":3},{"t":6},{"t":9},{"t":12},{"t":15},{"t":18},{"t":21},{"t":24},{"t":27},{"t":30},{"t":33},{"t":36},{"t":39},{"t":42},{"t":45},{"t":48},{"t":51},{"t":54},{"t":57},{"t":60},{"t":63},{"t":66},{"t":69},{"t":72}],
"vl":[{"t":2.2,"c":"bl"},{"t":26.35,"c":"bl"},{"t":50.5,"c":"bl"},{"t":14,"c":"ye"},{"t":38.2,"c":"ye"},{"t":62.4,"c":"ye"}],
"box":[{"x0":51.22,"x1":80,"y0":-2,"y1":10.71}],
"tA":[{"line":0,"txt":"- Modeled fluxes"},{"line":2,"txt":"- Main peaks are"},{"line":4,"txt":"- Sharp positive"},{"line":5,"txt":"- Pulse response"},{"line":8,"txt":"- Losses in"},{"line":10,"txt":"- 5-15 keV"}],
"tB":[{"line":1,"txt":"observed ones"},{"line":3,"txt":"large energy"},{"line":6,"txt":"to be considered"},{"line":7,"txt":"not as big"},{"line":9,"txt":"daily decrease"}]
},
"layer":[
{"data":{"name":"bz"},"mark":{"type":"line","color":"#000","strokeWidth":2},
 "encoding":{"x":{"field":"t","type":"quantitative","scale":{"domain":[0,72],"range":[0,680],"nice":false,"zero":false},"axis":null},
  "y":{"field":"v","type":"quantitative","scale":{"domain":[-20,20],"range":[151,15],"nice":false,"zero":false},
  "axis":{"orient":"left","values":[-20,-15,-10,-5,0,5,10,15,20],"labelExpr":"datum.value % 10 == 0 ? '' + datum.value : ''","title":"IMF Bz, nT","titleX":-82,"titleY":85,"grid":true,"gridColor":"#000","gridWidth":1,"gridOpacity":{"condition":{"test":"datum.value == 0 || datum.value == -20","value":1},"value":0}}}}},
{"data":{"name":"ae"},"mark":{"type":"line","color":"#000","strokeWidth":2},
 "encoding":{"x":{"field":"t","type":"quantitative","scale":{"domain":[0,72],"range":[0,680],"nice":false,"zero":false},"axis":null},
  "y":{"field":"v","type":"quantitative","scale":{"domain":[0,1600],"range":[287,163],"nice":false,"zero":false},
  "axis":{"orient":"left","values":[0,200,400,600,800,1000,1200,1400,1600],"labelExpr":"datum.value % 400 == 0 ? '' + datum.value : ''","title":"AE, nT","titleX":-95,"titleY":221,"grid":true,"gridColor":"#000","gridWidth":1,"gridOpacity":{"condition":{"test":"datum.value == 0","value":1},"value":0}}}}},
{"data":{"name":"dst"},"mark":{"type":"line","color":"#000","strokeWidth":2},
 "encoding":{"x":{"field":"t","type":"quantitative","scale":{"domain":[0,72],"range":[0,680],"nice":false,"zero":false},"axis":null},
  "y":{"field":"v","type":"quantitative","scale":{"domain":[-150,50],"range":[423,302],"nice":false,"zero":false},
  "axis":{"orient":"left","values":[-150,-125,-100,-75,-50,-25,0,25,50],"labelExpr":"datum.value % 50 == 0 ? '' + datum.value : ''","title":"Dst, nT","titleX":-91,"titleY":357,"grid":true,"gridColor":"#000","gridWidth":1,"gridOpacity":{"condition":{"test":"datum.value == 0 || datum.value == -150","value":1},"value":0}}}}},
{"data":{"name":"f1"},"transform":[{"fold":["k","b","g","r","m"],"as":["s","v"]}],"mark":{"type":"line","strokeWidth":1.5},
 "encoding":{"x":{"field":"t","type":"quantitative","scale":{"domain":[0,72],"range":[0,680],"nice":false,"zero":false},"axis":null},
  "y":{"field":"v","type":"quantitative","scale":{"type":"log","domain":[1,10000],"range":[605,469],"nice":false},
  "axis":{"orient":"left","values":[1,2,3,4,5,6,7,8,9,10,20,30,40,50,60,70,80,90,100,200,300,400,500,600,700,800,900,1000,2000,3000,4000,5000,6000,7000,8000,9000,10000],"labelExpr":"datum.value == 1 ? '1x10⁰' : datum.value == 10 ? '1x10¹' : datum.value == 100 ? '1x10²' : datum.value == 1000 ? '1x10³' : datum.value == 10000 ? '1x10⁴' : ''","title":"e- flux, 1/(cm^2 s sr eV)","titleX":-107,"titleY":626,"grid":true,"gridColor":"#333","gridWidth":1,"gridOpacity":{"condition":{"test":"datum.value == 1 || datum.value == 10 || datum.value == 100 || datum.value == 1000 || datum.value == 10000","value":1},"value":0}}},
  "color":{"field":"s","type":"nominal","scale":{"domain":["k","b","g","r","m"],"range":["#000000","#0000ff","#00ff00","#ff0000","#ff00ff"]},"legend":null}}},
{"data":{"name":"f2"},"transform":[{"fold":["k","b","g","r","m"],"as":["s","v"]}],"mark":{"type":"line","strokeWidth":1.6},
 "encoding":{"x":{"field":"t","type":"quantitative","scale":{"domain":[0,72],"range":[0,680],"nice":false,"zero":false},"axis":null},
  "y":{"field":"v","type":"quantitative","scale":{"type":"log","domain":[1,10000],"range":[786,650],"nice":false},
  "axis":{"orient":"left","values":[1,2,3,4,5,6,7,8,9,10,20,30,40,50,60,70,80,90,100,200,300,400,500,600,700,800,900,1000,2000,3000,4000,5000,6000,7000,8000,9000,10000],"labelExpr":"datum.value == 1 ? '1x10⁰' : datum.value == 10 ? '1x10¹' : datum.value == 100 ? '1x10²' : datum.value == 1000 ? '1x10³' : datum.value == 10000 ? '1x10⁴' : ''","title":null,"grid":true,"gridColor":"#333","gridWidth":1,"gridOpacity":{"condition":{"test":"datum.value == 1 || datum.value == 10 || datum.value == 100 || datum.value == 1000 || datum.value == 10000","value":1},"value":0}}},
  "color":{"field":"s","type":"nominal","scale":{"domain":["k","b","g","r","m"],"range":["#000000","#0000ff","#00ff00","#ff0000","#ff00ff"]},"legend":null}}},
{"data":{"name":"f3"},"transform":[{"fold":["o","p","i","l","n"],"as":["s","v"]}],"mark":{"type":"line","strokeWidth":1.5},
 "encoding":{"x":{"field":"t","type":"quantitative","scale":{"domain":[0,72],"range":[0,680],"nice":false,"zero":false},"axis":null},
  "y":{"field":"v","type":"quantitative","scale":{"type":"log","domain":[1,10000],"range":[968,832],"nice":false},
  "axis":{"orient":"left","values":[1,2,3,4,5,6,7,8,9,10,20,30,40,50,60,70,80,90,100,200,300,400,500,600,700,800,900,1000,2000,3000,4000,5000,6000,7000,8000,9000,10000],"labelExpr":"datum.value == 1 ? '1x10⁰' : datum.value == 10 ? '1x10¹' : datum.value == 100 ? '1x10²' : datum.value == 1000 ? '1x10³' : datum.value == 10000 ? '1x10⁴' : ''","title":"e- flux, 1/(cm^2 s sr eV)","titleX":-107,"titleY":990,"grid":true,"gridColor":"#333","gridWidth":1,"gridOpacity":{"condition":{"test":"datum.value == 1 || datum.value == 10 || datum.value == 100 || datum.value == 1000 || datum.value == 10000","value":1},"value":0}}},
  "color":{"field":"s","type":"nominal","scale":{"domain":["o","p","i","l","n"],"range":["#ff6600","#9900cc","#ff99cc","#7b7bff","#109a40"]},"legend":null}}},
{"data":{"name":"f4"},"transform":[{"fold":["o","p","i","l","n"],"as":["s","v"]}],"mark":{"type":"line","strokeWidth":2},
 "encoding":{"x":{"field":"t","type":"quantitative","scale":{"domain":[0,72],"range":[0,680],"nice":false,"zero":false},
  "axis":{"orient":"bottom","title":null,"grid":false,"values":[0,3,6,9,12,15,18,21,24,27,30,33,36,39,42,45,48,51,54,57,60,63,66,69,72],"labelExpr":"datum.value % 6 != 0 ? '' : datum.value == 0 ? '0' : datum.value % 24 == 0 ? '24' : '' + (datum.value % 24)","tickSize":14,"tickColor":"#808080","tickWidth":2,"labelFontSize":26,"labelPadding":16,"labelFlush":false,"labelOverlap":false}},
  "y":{"field":"v","type":"quantitative","scale":{"type":"log","domain":[1,10000],"range":[1149,1013],"nice":false},
  "axis":{"orient":"left","values":[1,2,3,4,5,6,7,8,9,10,20,30,40,50,60,70,80,90,100,200,300,400,500,600,700,800,900,1000,2000,3000,4000,5000,6000,7000,8000,9000,10000],"labelExpr":"datum.value == 1 ? '1x10⁰' : datum.value == 10 ? '1x10¹' : datum.value == 100 ? '1x10²' : datum.value == 1000 ? '1x10³' : datum.value == 10000 ? '1x10⁴' : ''","title":null,"grid":true,"gridColor":"#333","gridWidth":1,"gridOpacity":{"condition":{"test":"datum.value == 1 || datum.value == 10 || datum.value == 100 || datum.value == 1000 || datum.value == 10000","value":1},"value":0}}},
  "color":{"field":"s","type":"nominal","scale":{"domain":["o","p","i","l","n"],"range":["#ff6600","#9900cc","#ff99cc","#7b7bff","#109a40"]},"legend":null}}},
{"data":{"name":"xt"},"mark":{"type":"rule","color":"#808080","strokeWidth":2,"y2Offset":14},
 "encoding":{"x":{"field":"t","type":"quantitative","scale":{"domain":[0,72],"range":[0,680],"nice":false,"zero":false},"axis":null},"y":{"datum":-20,"type":"quantitative","scale":{"domain":[-20,20],"range":[151,15],"nice":false,"zero":false},"axis":null},"y2":{"datum":-20}}},
{"data":{"name":"xt"},"mark":{"type":"rule","color":"#808080","strokeWidth":2,"y2Offset":14},
 "encoding":{"x":{"field":"t","type":"quantitative","scale":{"domain":[0,72],"range":[0,680],"nice":false,"zero":false},"axis":null},"y":{"datum":0,"type":"quantitative","scale":{"domain":[0,1600],"range":[287,163],"nice":false,"zero":false},"axis":null},"y2":{"datum":0}}},
{"data":{"name":"xt"},"mark":{"type":"rule","color":"#808080","strokeWidth":2,"y2Offset":14},
 "encoding":{"x":{"field":"t","type":"quantitative","scale":{"domain":[0,72],"range":[0,680],"nice":false,"zero":false},"axis":null},"y":{"datum":-150,"type":"quantitative","scale":{"domain":[-150,50],"range":[423,302],"nice":false,"zero":false},"axis":null},"y2":{"datum":-150}}},
{"data":{"name":"xt"},"mark":{"type":"rule","color":"#808080","strokeWidth":2,"y2Offset":14},
 "encoding":{"x":{"field":"t","type":"quantitative","scale":{"domain":[0,72],"range":[0,680],"nice":false,"zero":false},"axis":null},"y":{"datum":1,"type":"quantitative","scale":{"type":"log","domain":[1,10000],"range":[605,469],"nice":false},"axis":null},"y2":{"datum":1}}},
{"data":{"name":"xt"},"mark":{"type":"rule","color":"#808080","strokeWidth":2,"y2Offset":14},
 "encoding":{"x":{"field":"t","type":"quantitative","scale":{"domain":[0,72],"range":[0,680],"nice":false,"zero":false},"axis":null},"y":{"datum":1,"type":"quantitative","scale":{"type":"log","domain":[1,10000],"range":[786,650],"nice":false},"axis":null},"y2":{"datum":1}}},
{"data":{"name":"xt"},"mark":{"type":"rule","color":"#808080","strokeWidth":2,"y2Offset":14},
 "encoding":{"x":{"field":"t","type":"quantitative","scale":{"domain":[0,72],"range":[0,680],"nice":false,"zero":false},"axis":null},"y":{"datum":1,"type":"quantitative","scale":{"type":"log","domain":[1,10000],"range":[968,832],"nice":false},"axis":null},"y2":{"datum":1}}},
{"data":{"name":"vl"},"mark":{"type":"rule","strokeWidth":2},
 "encoding":{"x":{"field":"t","type":"quantitative","scale":{"domain":[0,72],"range":[0,680],"nice":false,"zero":false},
  "axis":{"orient":"bottom","title":null,"grid":false,"ticks":false,"domain":false,"values":[12.5,36.6,59.7],"labelExpr":"datum.value < 24 ? 'May 31' : datum.value < 48 ? 'June 1' : 'June 2'","labelFontSize":26,"labelPadding":65,"labelFlush":false,"labelOverlap":false}},
  "color":{"field":"c","type":"nominal","scale":{"domain":["bl","ye"],"range":["#0000ff","#ffff00"]},"legend":null}}},
{"data":{"name":"box"},"mark":{"type":"rect","fill":"#ffffff","stroke":"#4a6a94","strokeWidth":4,"clip":true},
 "encoding":{"x":{"field":"x0","type":"quantitative","scale":{"domain":[0,72],"range":[0,680],"nice":false,"zero":false},"axis":null},"x2":{"field":"x1"},
  "y":{"field":"y0","type":"quantitative","scale":{"domain":[0,20],"range":[53,1200],"nice":false,"zero":false},"axis":null},"y2":{"field":"y1"}}},
{"data":{"name":"tA"},"mark":{"type":"text","font":"Liberation Sans","fontWeight":"bold","fontSize":48,"color":"#ff0000","align":"left","baseline":"alphabetic","clip":true},
 "encoding":{"x":{"datum":51.43,"type":"quantitative","scale":{"domain":[0,72],"range":[0,680],"nice":false,"zero":false},"axis":null},
  "y":{"field":"line","type":"quantitative","scale":{"domain":[0,20],"range":[53,1200],"nice":false,"zero":false},"axis":null},"text":{"field":"txt"}}},
{"data":{"name":"tB"},"mark":{"type":"text","font":"Liberation Sans","fontWeight":"bold","fontSize":48,"color":"#ff0000","align":"left","baseline":"alphabetic","clip":true},
 "encoding":{"x":{"datum":54.5,"type":"quantitative","scale":{"domain":[0,72],"range":[0,680],"nice":false,"zero":false},"axis":null},
  "y":{"field":"line","type":"quantitative","scale":{"domain":[0,20],"range":[53,1200],"nice":false,"zero":false},"axis":null},"text":{"field":"txt"}}}
],
"resolve":{"scale":{"x":"independent","y":"independent","color":"independent"},"axis":{"x":"independent","y":"independent"}}
}
